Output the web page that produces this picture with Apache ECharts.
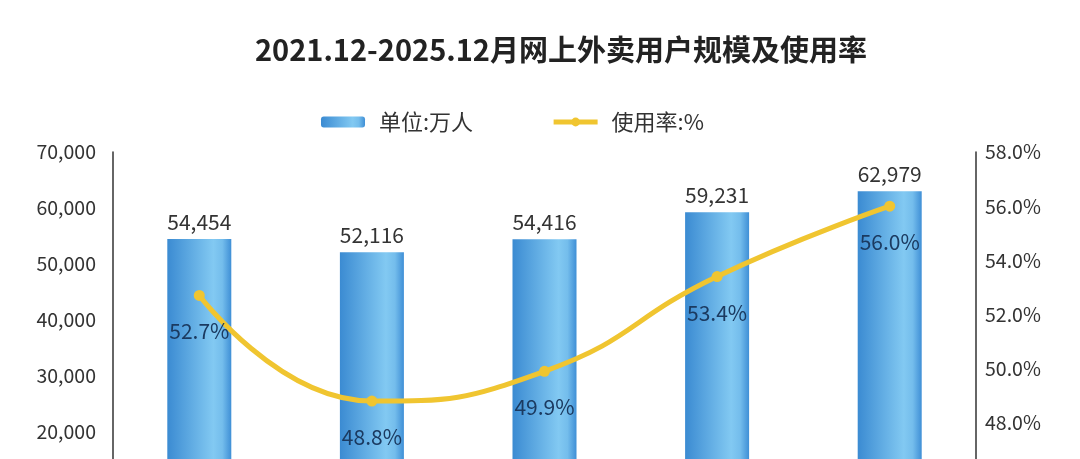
<!DOCTYPE html>
<html>
<head>
<meta charset="utf-8">
<title>网上外卖用户规模及使用率</title>
<script src="https://cdn.jsdelivr.net/npm/echarts@6/dist/echarts.min.js"></script>
<style>
html, body { margin: 0; padding: 0; background: #fff; }
#chart { width: 1080px; height: 459px; }
</style>
</head>
<body>
<div id="chart"></div>
<script>
// 数据
var years = ['2021.12', '2022.12', '2023.12', '2024.12', '2025.12'];
var users = [54454, 52116, 54416, 59231, 62979];   // 单位:万人
var rates = [52.7, 48.8, 49.9, 53.4, 56.0];        // 使用率:%

var font = 'Noto Sans CJK SC';

var barColor = new echarts.graphic.LinearGradient(0, 0, 1, 0, [
    {offset: 0, color: '#3b8bd2'},
    {offset: 0.72, color: '#82c9f2'},
    {offset: 0.86, color: '#74bdec'},
    {offset: 1, color: '#3f8fd6'}
]);

var myChart = echarts.init(document.getElementById('chart'));

var option = {
    backgroundColor: '#fff',
    animation: false,
    title: {
        text: '2021.12-2025.12月网上外卖用户规模及使用率',
        left: 250,
        top: 30,
        textStyle: {fontFamily: font, fontSize: 29, fontWeight: 'bold', color: '#222'}
    },
    legend: {
        left: 316,
        top: 106,
        itemWidth: 44,
        itemHeight: 11,
        itemGap: 78,
        textStyle: {fontFamily: font, fontSize: 22, color: '#333', padding: [0, 0, 0, 9]},
        data: [
            {name: '单位:万人'},
            {name: '使用率:%', lineStyle: {width: 5}}
        ]
    },
    // 两个网格: 左右轴刻度间距不同, 下半部分在画面外
    grid: [
        {left: 113, right: 104, top: 152, height: 392, outerBoundsMode: 'none', containLabel: false},
        {left: 113, right: 104, top: 152, height: 379, outerBoundsMode: 'none', containLabel: false}
    ],
    xAxis: [
        {type: 'category', gridIndex: 0, data: years, show: false},
        {type: 'category', gridIndex: 1, data: years, show: false}
    ],
    yAxis: [
        {
            type: 'value', gridIndex: 0, position: 'left',
            min: 0, max: 70000, interval: 10000,
            axisLine: {show: true, lineStyle: {color: '#333', width: 1.5}},
            axisTick: {show: false},
            splitLine: {show: false},
            axisLabel: {
                fontFamily: font, fontSize: 19.5, color: '#333', margin: 17,
                formatter: function (v) { return v.toLocaleString('en-US'); }
            }
        },
        {
            type: 'value', gridIndex: 1, position: 'right',
            min: 44, max: 58, interval: 2,
            axisLine: {show: true, lineStyle: {color: '#333', width: 1.5}},
            axisTick: {show: false},
            splitLine: {show: false},
            axisLabel: {
                fontFamily: font, fontSize: 19.5, color: '#333', margin: 9,
                formatter: function (v) { return v.toFixed(1) + '%'; }
            }
        }
    ],
    series: [
        {
            name: '单位:万人',
            type: 'bar',
            xAxisIndex: 0,
            yAxisIndex: 0,
            data: users,
            barWidth: 64,
            itemStyle: {color: barColor},
            label: {
                show: true,
                position: 'top',
                distance: 7,
                fontFamily: font,
                fontSize: 21,
                color: '#333',
                formatter: function (p) { return p.value.toLocaleString('en-US'); }
            }
        },
        {
            name: '使用率:%',
            type: 'line',
            xAxisIndex: 1,
            yAxisIndex: 1,
            data: rates,
            smooth: 0.5,
            symbol: 'circle',
            symbolSize: 11,
            lineStyle: {color: '#f0c530', width: 5},
            itemStyle: {color: '#f0c530'},
            z: 5,
            label: {
                show: true,
                position: 'bottom',
                distance: 20,
                fontFamily: font,
                fontSize: 21,
                color: '#1b3a60',
                formatter: function (p) { return p.value.toFixed(1) + '%'; }
            }
        }
    ]
};

myChart.setOption(option);
</script>
</body>
</html>
